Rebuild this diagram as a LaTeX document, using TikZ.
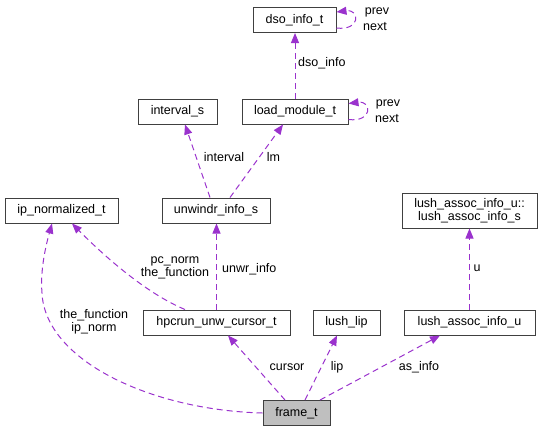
\documentclass[tikz,border=0pt]{standalone}
\usepackage{fontspec}
\setmainfont{Liberation Sans}
\usetikzlibrary{arrows.meta,calc}
\definecolor{edgec}{RGB}{154,50,205}
\definecolor{boxc}{RGB}{64,64,64}
\definecolor{framefill}{RGB}{191,191,191}
\begin{document}
\begin{tikzpicture}[x=1pt,y=-1pt,
  font=\fontsize{12.5}{13}\selectfont,
  cls/.style={draw=boxc,line width=1pt,fill=white,inner sep=0pt,minimum height=25pt,align=center},
  edge/.style={draw=edgec,line width=1pt,dash pattern=on 6pt off 4pt,-{Triangle[length=10pt,width=8pt,fill=edgec]}},
  lbl/.style={inner sep=0pt,align=center}]
\useasboundingbox (0,0) rectangle (545,432);
% nodes
\node[cls,minimum width=83pt] (dso) at (294.5,20) {dso\_info\_t};
\node[cls,minimum width=106pt] (lm) at (295,111.5) {load\_module\_t};
\node[cls,minimum width=79pt] (iv) at (177.5,111.5) {interval\_s};
\node[cls,minimum width=108pt] (uw) at (216,210.5) {unwindr\_info\_s};
\node[cls,minimum width=113pt] (ip) at (61.5,210.5) {ip\_normalized\_t};
\node[cls,minimum width=135pt,minimum height=35pt] (las) at (469.5,210.5) {lush\_assoc\_info\_u::\\lush\_assoc\_info\_s};
\node[cls,minimum width=147pt] (hp) at (216.5,322.5) {hpcrun\_unw\_cursor\_t};
\node[cls,minimum width=67pt] (lip) at (346.5,322.5) {lush\_lip};
\node[cls,minimum width=131pt] (lau) at (469.5,322.5) {lush\_assoc\_info\_u};
\node[cls,minimum width=67pt,fill=framefill] (fr) at (296.5,413) {frame\_t};
% edges
\draw[edge] (fr.west) .. controls (150,410) and (45,360) .. (42,293) .. controls (40,270) and (46,245) .. ([xshift=-9.5pt]ip.south);
\draw[edge] ([xshift=-31.5pt]hp.north) .. controls (150,295) and (110,262) .. ([xshift=10.5pt]ip.south);
\draw[edge] (hp.north) -- (hp.north |- uw.south);
\draw[edge] ([xshift=-6pt]uw.north) -- ([xshift=7.5pt]iv.south);
\draw[edge] ([xshift=14pt]uw.north) -- ([xshift=-12pt]lm.south);
\draw[edge] (lm.north) -- (lm.north |- dso.south);
\draw[edge] ($(dso.east)+(0,8)$) .. controls ($(dso.east)+(24,11)$) and ($(dso.east)+(24,-11)$) .. ($(dso.east)+(0,-8)$);
\draw[edge] ($(lm.east)+(0,8)$) .. controls ($(lm.east)+(24,11)$) and ($(lm.east)+(24,-11)$) .. ($(lm.east)+(0,-8)$);
\draw[edge] (lau.north) -- (lau.north |- las.south);
\draw[edge] ([xshift=-11.5pt]fr.north) -- ([xshift=11.5pt]hp.south);
\draw[edge] ([xshift=8.5pt]fr.north) -- ([xshift=-9.5pt]lip.south);
\draw[edge] ([xshift=23.5pt]fr.north) -- ([xshift=-29.5pt]lau.south);
% labels
\node[lbl] (l1) at (377,12) {prev};
\node[lbl] (l2) at (375,27) {next};
\node[lbl] (l3) at (388,104) {prev};
\node[lbl] (l4) at (387,119) {next};
\node[lbl,anchor=west] (l5) at (298,63) {dso\_info};
\node[lbl] (l6) at (224,157) {interval};
\node[lbl] (l7) at (273.5,157) {lm};
\node[lbl] (l8) at (175,267.5) {pc\_norm\\the\_function};
\node[lbl,anchor=west] (l9) at (222,269) {unwr\_info};
\node[lbl] (l10) at (94,321.5) {the\_function\\ip\_norm};
\node[lbl] (l11) at (477,268) {u};
\node[lbl] (l12) at (287,367) {cursor};
\node[lbl] (l13) at (337,367) {lip};
\node[lbl] (l14) at (419,367) {as\_info};
\end{tikzpicture}
\end{document}
